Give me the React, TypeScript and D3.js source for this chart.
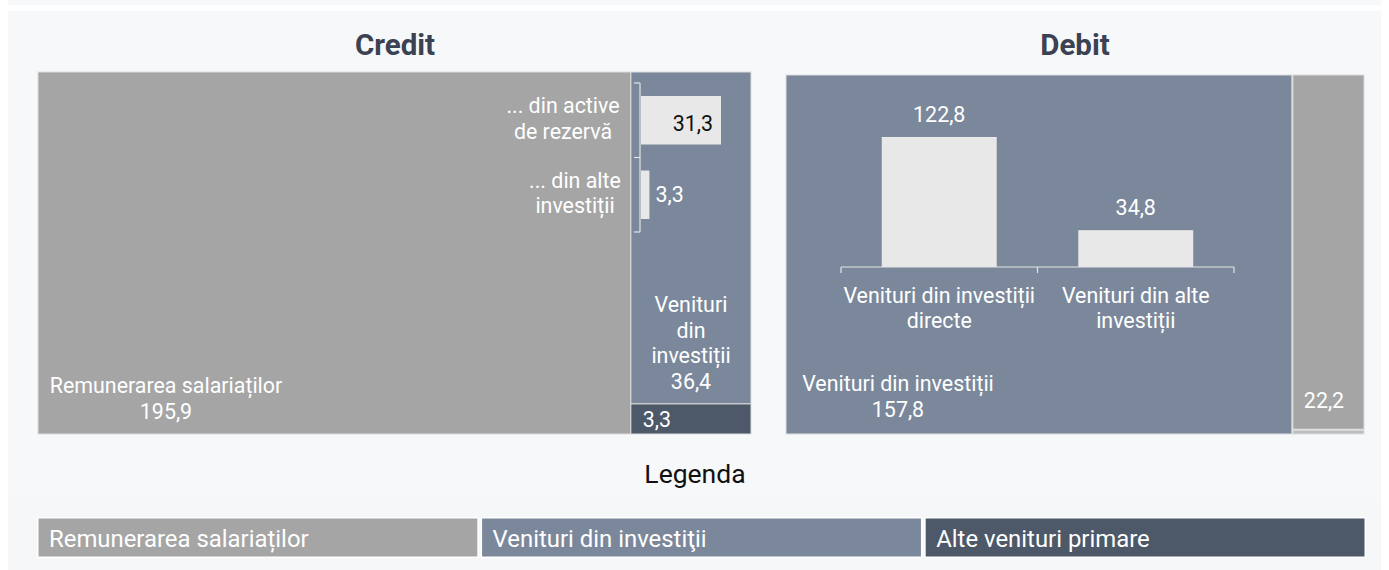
import React from "react";
import * as d3 from "d3";

// ---- data ----
const creditCategories = ["Remunerarea salariaților", "Venituri din investiții", "Alte venituri primare"];
const creditValues = [195.9, 36.4, 3.3];
const creditSubCategories = ["... din active|de rezervă", "... din alte|investiții"];
const creditSubValues = [31.3, 3.3];

const debitCategories = ["Venituri din investiții", "Remunerarea salariaților", "Alte venituri primare"];
const debitValues = [157.8, 22.2, 0.3];
const debitSubCategories = ["Venituri din investiții|directe", "Venituri din alte|investiții"];
const debitSubValues = [122.8, 34.8];

const legendLabels = ["Remunerarea salariaților", "Venituri din investiţii", "Alte venituri primare"];

const C_GRAY = "#a5a5a5";
const C_SLATE = "#7b889b";
const C_DARK = "#4d5868";
const C_LIGHT = "#e8e8e8";
const C_STRIP = "#bdbdbd";
const BG = "#f7f8fa";
const FONT = "Roboto, 'Noto Sans', sans-serif";
const FS = 21.4;

const fmt = (v: number) => d3.format(".1f")(v).replace(".", ",");

export default function App() {
  // Credit treemap (slice then dice)
  const cTotal = d3.sum(creditValues);
  const cx = d3.scaleLinear().domain([0, cTotal]).range([38, 751]);
  const cColTotal = creditValues[1] + creditValues[2];
  const cy = d3.scaleLinear().domain([0, cColTotal]).range([72, 434]);
  const cSplitX = cx(creditValues[0]);
  const cSplitY = cy(creditValues[1]);

  // credit inset bars
  const ib = d3.scaleBand().domain(creditSubCategories).range([83, 232]).padding(0);
  const ix = d3.scaleLinear().domain([0, creditSubValues[0]]).range([641, 721]);

  // Debit treemap
  const dTotal = d3.sum(debitValues);
  const dx = d3.scaleLinear().domain([0, dTotal]).range([786, 1364]);
  const dColTotal = debitValues[1] + debitValues[2];
  const dy = d3.scaleLinear().domain([0, dColTotal]).range([75, 434]);
  const dSplitX = dx(debitValues[0]);
  const dSplitY = dy(debitValues[1]);

  // debit inset column chart
  const db = d3.scaleBand().domain(debitSubCategories).range([841, 1234]).padding(0);
  const dvy = d3.scaleLinear().domain([0, debitSubValues[0]]).range([267, 137]);
  const barW = db.bandwidth() * 0.585;

  // legend
  const lx = d3.scaleBand().domain(legendLabels).range([37, 1366]).paddingInner(0.004);
  const legendColors = [C_GRAY, C_SLATE, C_DARK];

  const white = "#ffffff";

  return (
    <svg width={1389} height={570} style={{ position: "absolute", left: 0, top: 0 }} fontFamily={FONT}>
      <rect x={0} y={0} width={1389} height={570} fill="#ffffff" />
      <rect x={8} y={0} width={1373} height={5} fill={BG} />
      <rect x={8} y={11} width={1373} height={491} fill={BG} />
      <rect x={8} y={502} width={1373} height={68} fill="#f6f7f9" />

      {/* titles */}
      <text x={395} y={55} textAnchor="middle" fontSize={29.5} fontWeight={700} fill="#3b4252">Credit</text>
      <text x={1075} y={55} textAnchor="middle" fontSize={29.5} fontWeight={700} fill="#3b4252">Debit</text>

      {/* Credit treemap */}
      <rect x={cx(0)} y={72} width={cSplitX - cx(0)} height={362} fill={C_GRAY} stroke="#dcdcdc" strokeWidth={1} />
      <rect x={cSplitX} y={cy(0)} width={cx(cTotal) - cSplitX} height={cSplitY - cy(0)} fill={C_SLATE} stroke="#dcdcdc" strokeWidth={1} />
      <rect x={cSplitX} y={cSplitY} width={cx(cTotal) - cSplitX} height={cy(cColTotal) - cSplitY} fill={C_DARK} stroke="#dcdcdc" strokeWidth={1} />

      <text x={166} y={393} textAnchor="middle" fontSize={FS} fill={white}>
        <tspan x={166}>{creditCategories[0]}</tspan>
        <tspan x={166} dy={26}>{fmt(creditValues[0])}</tspan>
      </text>
      <text x={691} y={312} textAnchor="middle" fontSize={FS} fill={white}>
        <tspan x={691}>Venituri</tspan>
        <tspan x={691} dy={25.5}>din</tspan>
        <tspan x={691} dy={25.5}>investiții</tspan>
        <tspan x={691} dy={25.5}>{fmt(creditValues[1])}</tspan>
      </text>
      <text x={cSplitX + 12} y={427} fontSize={FS} fill={white}>{fmt(creditValues[2])}</text>

      {/* credit inset bracket */}
      <g stroke="#e4e4e4" strokeWidth={1.2} fill="none">
        <line x1={640} x2={640} y1={ib.range()[0]} y2={ib.range()[1]} />
        {[ib.range()[0], (ib(creditSubCategories[1]) as number), ib.range()[1]].map((y, i) => (
          <line key={i} x1={634} x2={640} y1={y} y2={y} />
        ))}
      </g>
      {creditSubValues.map((v, i) => {
        const y0 = (ib(creditSubCategories[i]) as number) + 13;
        const h = ib.bandwidth() - 26;
        return <rect key={i} x={ix(0)} y={y0} width={ix(v) - ix(0)} height={h} fill={C_LIGHT} />;
      })}
      {creditSubCategories.map((c, i) => {
        const lines = c.split("|");
        const y = (ib(c) as number) + 30;
        const cxm = i === 0 ? 563 : 575;
        return (
          <text key={i} x={cxm} y={y} textAnchor="middle" fontSize={FS} fill={white}>
            {lines.map((l, j) => (
              <tspan key={j} x={cxm} dy={j === 0 ? 0 : 25.5}>{l}</tspan>
            ))}
          </text>
        );
      })}
      <text x={ix(creditSubValues[0]) - 8} y={(ib(creditSubCategories[0]) as number) + 48} textAnchor="end" fontSize={FS} fill="#111111">{fmt(creditSubValues[0])}</text>
      <text x={ix(creditSubValues[1]) + 6} y={(ib(creditSubCategories[1]) as number) + 44} fontSize={FS} fill={white}>{fmt(creditSubValues[1])}</text>

      {/* Debit treemap */}
      <rect x={dx(0)} y={75} width={dSplitX - dx(0)} height={359} fill={C_SLATE} stroke="#dcdcdc" strokeWidth={1} />
      <rect x={dSplitX + 1} y={dy(0)} width={dx(dTotal) - dSplitX - 1} height={dSplitY - dy(0)} fill={C_GRAY} stroke="#dcdcdc" strokeWidth={1} />
      <rect x={dSplitX + 1} y={dSplitY + 1} width={dx(dTotal) - dSplitX - 1} height={dy(dColTotal) - dSplitY - 1} fill={C_STRIP} stroke="#dcdcdc" strokeWidth={1} />

      <text x={898} y={391} textAnchor="middle" fontSize={FS} fill={white}>
        <tspan x={898}>{debitCategories[0]}</tspan>
        <tspan x={898} dy={26}>{fmt(debitValues[0])}</tspan>
      </text>
      <text x={dSplitX + 12} y={408} fontSize={FS} fill={white}>{fmt(debitValues[1])}</text>

      {/* debit inset columns */}
      {debitSubValues.map((v, i) => {
        const bx = (db(debitSubCategories[i]) as number) + (db.bandwidth() - barW) / 2;
        return (
          <g key={i}>
            <rect x={bx} y={dvy(v)} width={barW} height={dvy(0) - dvy(v)} fill={C_LIGHT} />
            <text x={bx + barW / 2} y={dvy(v) - 15} textAnchor="middle" fontSize={FS} fill={white}>{fmt(v)}</text>
          </g>
        );
      })}
      <g stroke="#e4e4e4" strokeWidth={1.2} fill="none">
        <line x1={db.range()[0]} x2={db.range()[1]} y1={dvy(0)} y2={dvy(0)} />
        {[db.range()[0], db(debitSubCategories[1]) as number, db.range()[1]].map((x, i) => (
          <line key={i} x1={x} x2={x} y1={dvy(0)} y2={dvy(0) + 6} />
        ))}
      </g>
      {debitSubCategories.map((c, i) => {
        const mx = (db(c) as number) + db.bandwidth() / 2;
        return (
          <text key={i} x={mx} y={303} textAnchor="middle" fontSize={FS} fill={white}>
            {c.split("|").map((l, j) => (
              <tspan key={j} x={mx} dy={j === 0 ? 0 : 25}>{l}</tspan>
            ))}
          </text>
        );
      })}

      {/* legend */}
      <text x={695} y={483} textAnchor="middle" fontSize={26.5} fill="#111111">Legenda</text>
      {legendLabels.map((l, i) => {
        const x0 = lx(l) as number;
        return (
          <g key={i}>
            <rect x={x0} y={517} width={lx.bandwidth()} height={41} fill="#ffffff" />
            <rect x={x0 + 1.5} y={518.5} width={lx.bandwidth() - 3} height={38} fill={legendColors[i]} />
            <text x={x0 + 12} y={547} fontSize={23.9} fill={white}>{l}</text>
          </g>
        );
      })}
    </svg>
  );
}
